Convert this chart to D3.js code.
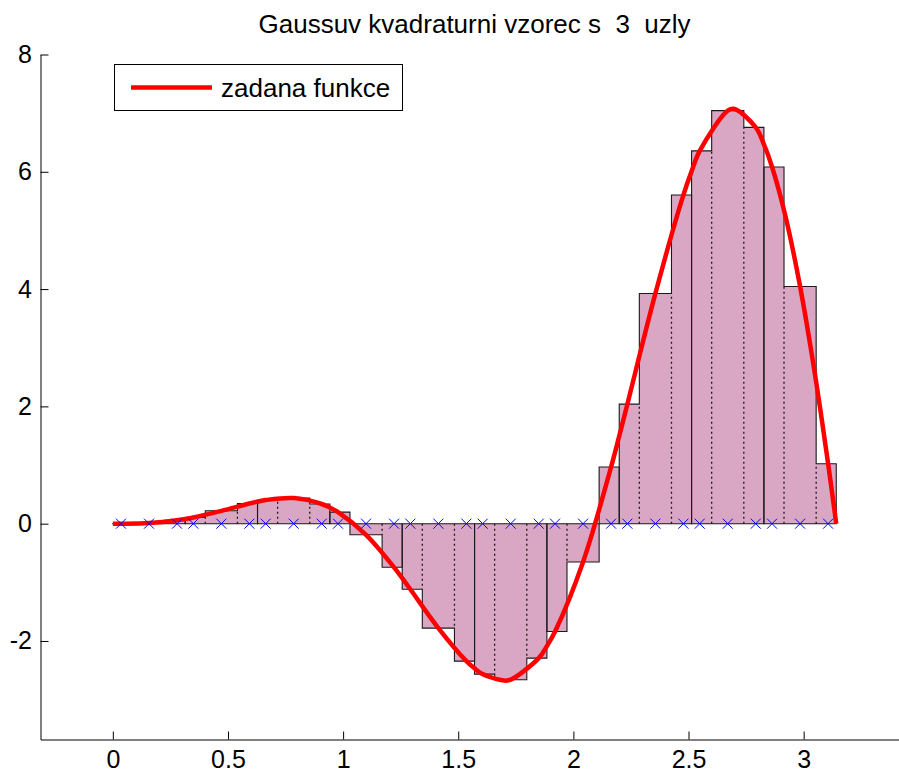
<!DOCTYPE html>
<html><head><meta charset="utf-8">
<script src="https://cdn.jsdelivr.net/npm/d3@7"></script>
<style>
body{margin:0;background:#fff}
svg{display:block}
text{font-family:"Liberation Sans",Arial,Helvetica,sans-serif;fill:#000}
</style>
</head><body>
<svg id="chart" width="899" height="773"></svg>
<script>
// ---- data ----
const titleText = "Gaussuv kvadraturni vzorec s  3  uzly";
const legendLabel = "zadana funkce";
const xTicks = [0, 0.5, 1, 1.5, 2, 2.5, 3];
const xTickLabels = ["0", "0.5", "1", "1.5", "2", "2.5", "3"];
const yTicks = [-2, 0, 2, 4, 6, 8];
const yTickLabels = ["-2", "0", "2", "4", "6", "8"];
const xDomain = [-0.314159, 3.455752];
const yDomain = [-3.68, 8];

// bar extents (3 bars per subinterval, widths = Gauss weights)
const barLeft = [
  0.000000, 0.087266, 0.226893,
  0.314159, 0.401425, 0.541052,
  0.628319, 0.715585, 0.855211,
  0.942478, 1.029744, 1.169371,
  1.256637, 1.343903, 1.483530,
  1.570796, 1.658063, 1.797689,
  1.884956, 1.972222, 2.111848,
  2.199115, 2.286381, 2.426008,
  2.513274, 2.600540, 2.740167,
  2.827433, 2.914699, 3.054326
];
const barRight = [
  0.087266, 0.226893, 0.314159,
  0.401425, 0.541052, 0.628319,
  0.715585, 0.855211, 0.942478,
  1.029744, 1.169371, 1.256637,
  1.343903, 1.483530, 1.570796,
  1.658063, 1.797689, 1.884956,
  1.972222, 2.111848, 2.199115,
  2.286381, 2.426008, 2.513274,
  2.600540, 2.740167, 2.827433,
  2.914699, 3.054326, 3.141593
];
// Gauss nodes and function values at them (bar heights)
const nodeX = [
  0.035407, 0.157080, 0.278752,
  0.349566, 0.471239, 0.592911,
  0.663725, 0.785398, 0.907071,
  0.977885, 1.099557, 1.221230,
  1.292044, 1.413717, 1.535389,
  1.606203, 1.727876, 1.849549,
  1.920363, 2.042035, 2.163708,
  2.234522, 2.356194, 2.477867,
  2.548681, 2.670354, 2.792026,
  2.862840, 2.984513, 3.106185
];
const nodeY = [
  0.000133, 0.011202, 0.05767,
  0.10592, 0.21933, 0.34397,
  0.40219, 0.43618, 0.33579,
  0.19741, -0.18913, -0.74376,
  -1.11891, -1.78077, -2.34413,
  -2.56535, -2.66015, -2.29281,
  -1.83910, -0.65232, 0.96648,
  2.03773, 3.92561, 5.60523,
  6.35586, 7.04300, 6.75680,
  6.08257, 4.04383, 1.02291
];
// the given function (red curve)
const curveX = [
  0, 0.035407, 0.157080, 0.278752, 0.314159, 0.349566, 0.471239, 0.592911,
  0.628319, 0.663725, 0.785398, 0.907071, 0.942478, 0.977885, 1.099557,
  1.221230, 1.256637, 1.292044, 1.413717, 1.535389, 1.570796, 1.606203,
  1.70, 1.727876, 1.849549, 1.884956, 1.920363, 2.042035, 2.163708, 2.199115,
  2.234522, 2.356194, 2.477867, 2.513274, 2.548681, 2.670354, 2.70, 2.792026,
  2.827433, 2.862840, 2.92, 2.984513, 3.05, 3.106185, 3.141593
];
const curveY = [
  0, 0.000133, 0.011202, 0.05767, 0.079847, 0.10592, 0.21933, 0.34397,
  0.375462, 0.40219, 0.43618, 0.33579, 0.274489, 0.19741, -0.18913,
  -0.74376, -0.928193, -1.11891, -1.78077, -2.34413, -2.467401, -2.56535,
  -2.6757, -2.66015, -2.29281, -2.088435, -1.83910, -0.65232, 0.96648, 1.494439,
  2.03773, 3.92561, 5.60523, 6.007398, 6.35586, 7.04300, 7.0705, 6.75680,
  6.467589, 6.08257, 5.260, 4.04383, 2.525, 1.02291, 0
];

// ---- drawing ----
const svg = d3.select("#chart");
const x = d3.scaleLinear().domain(xDomain).range([40.5, 908.6]);
const y = d3.scaleLinear().domain(yDomain).range([739.5, 54.5]);

const pink = "#d9a7c4";
const edge = "#1a1a1a";

const nSub = barLeft.length / 3;
const groups = d3.range(nSub).map(k => {
  const i = 3 * k;
  return [
    [barLeft[i], 0], [barLeft[i], nodeY[i]],
    [barRight[i], nodeY[i]], [barLeft[i + 1], nodeY[i + 1]],
    [barRight[i + 1], nodeY[i + 1]], [barLeft[i + 2], nodeY[i + 2]],
    [barRight[i + 2], nodeY[i + 2]], [barRight[i + 2], 0]
  ];
});
const line = d3.line().x(d => x(d[0])).y(d => y(d[1]));

const gBars = svg.append("g");
gBars.selectAll("path.fill").data(groups).join("path")
  .attr("class", "fill")
  .attr("d", d => line(d) + "Z")
  .attr("fill", pink).attr("stroke", "none");

// dotted separators between bars inside a subinterval
const seps = [];
for (let k = 0; k < nSub; k++) {
  for (let j = 0; j < 2; j++) {
    const i = 3 * k + j;
    const hL = nodeY[i], hR = nodeY[i + 1];
    if (hL * hR > 0) {
      const top = Math.sign(hL) * Math.min(Math.abs(hL), Math.abs(hR));
      seps.push({ xv: barRight[i], top });
    }
  }
}
gBars.selectAll("line.sep").data(seps).join("line")
  .attr("class", "sep")
  .attr("x1", d => x(d.xv)).attr("x2", d => x(d.xv))
  .attr("y1", y(0)).attr("y2", d => y(d.top))
  .attr("stroke", edge).attr("stroke-width", 1.3)
  .attr("stroke-dasharray", "2,3");

gBars.selectAll("path.outline").data(groups).join("path")
  .attr("class", "outline")
  .attr("d", d => line(d) + "Z")
  .attr("fill", "none").attr("stroke", edge).attr("stroke-width", 1.1)
  .attr("stroke-linejoin", "miter");

// red curve
const curvePts = curveX.map((v, i) => [v, curveY[i]]);
svg.append("path")
  .attr("d", d3.line().x(d => x(d[0])).y(d => y(d[1])).curve(d3.curveCatmullRom.alpha(0.5))(curvePts))
  .attr("fill", "none").attr("stroke", "#ff0000").attr("stroke-width", 4.5)
  .attr("stroke-linejoin", "round");

// node markers
svg.append("g").selectAll("path").data(nodeX).join("path")
  .attr("transform", d => `translate(${x(d)},${y(0)})`)
  .attr("d", "M-5,-5L5,5M-5,5L5,-5")
  .attr("stroke", "#0000ff").attr("stroke-width", 1).attr("fill", "none");

// axes
const tickFont = 25;
const textFont = 26;
const xAxis = d3.axisBottom(x).tickValues(xTicks)
  .tickFormat((d, i) => xTickLabels[i]).tickSizeInner(-8).tickSizeOuter(0).tickPadding(11);
const yAxis = d3.axisLeft(y).tickValues(yTicks)
  .tickFormat((d, i) => yTickLabels[i]).tickSizeInner(-8).tickSizeOuter(0).tickPadding(8.5);

const gx = svg.append("g").attr("transform", `translate(0,${y.range()[0]})`).call(xAxis);
const gy = svg.append("g").attr("transform", `translate(${x.range()[0]},0)`).call(yAxis);
[gx, gy].forEach(g => {
  g.select(".domain").attr("stroke", "#000").attr("stroke-width", 1);
  g.selectAll(".tick line").attr("stroke", "#000").attr("stroke-width", 1);
  g.selectAll(".tick text").attr("font-size", tickFont)
    .attr("font-family", "'Liberation Sans', Arial, sans-serif").attr("fill", "#000");
});

// title
svg.append("text")
  .attr("x", (x.range()[0] + x.range()[1]) / 2).attr("y", 33)
  .attr("text-anchor", "middle").attr("font-size", textFont)
  .style("white-space", "pre")
  .text(titleText);

// legend
const lg = svg.append("g");
lg.append("rect").attr("x", 114.5).attr("y", 64.5).attr("width", 288).attr("height", 46)
  .attr("fill", "#fff").attr("stroke", "#000").attr("stroke-width", 1);
lg.append("line").attr("x1", 131).attr("x2", 212).attr("y1", 87.5).attr("y2", 87.5)
  .attr("stroke", "#ff0000").attr("stroke-width", 4.5);
lg.append("text").attr("x", 221).attr("y", 96.5).attr("font-size", textFont).text(legendLabel);
</script>
</body></html>
